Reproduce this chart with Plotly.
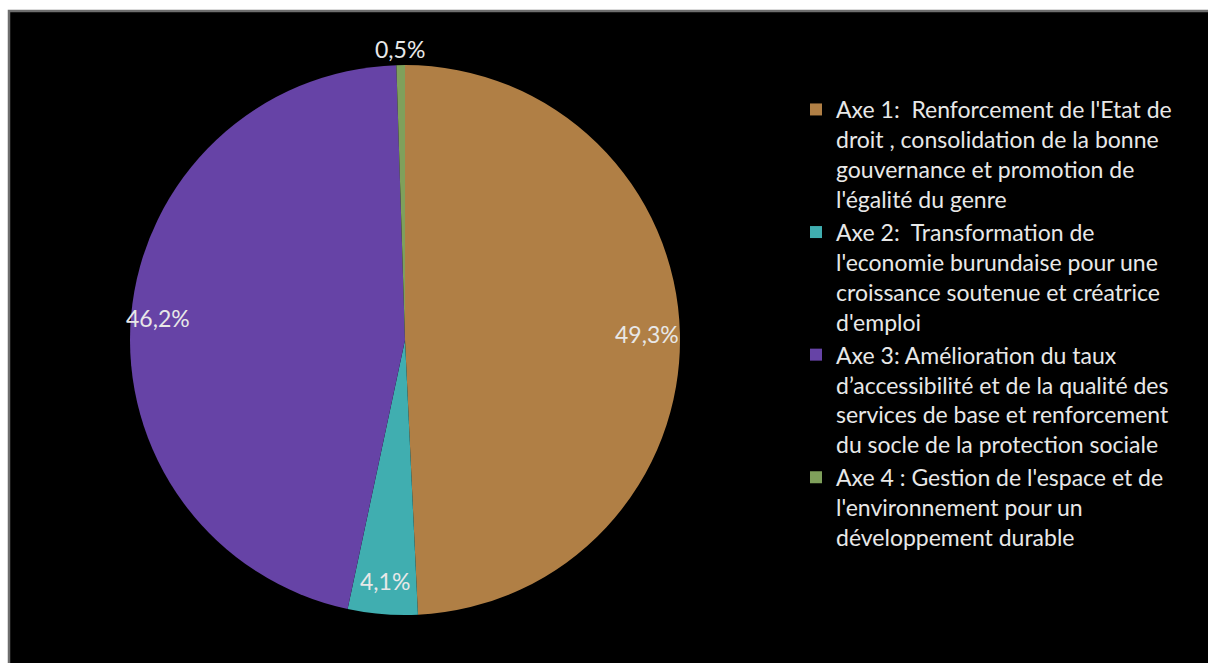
import math
import plotly.graph_objects as go

labels = [
    "Axe 1:  Renforcement de l'Etat de<br>droit , consolidation de la bonne<br>gouvernance et promotion de<br>l'égalité du genre",
    "Axe 2:  Transformation de<br>l'economie burundaise pour une<br>croissance soutenue et créatrice<br>d'emploi",
    "Axe 3: Amélioration du taux<br>d’accessibilité et de la qualité des<br>services de base et renforcement<br>du socle de la protection sociale",
    "Axe 4 : Gestion de l'espace et de<br>l'environnement pour un<br>développement durable",
]
values = [49.3, 4.1, 46.2, 0.5]
pct_text = ["49,3%", "4,1%", "46,2%", "0,5%"]
colors = ["#B07F45", "#40AEB0", "#6643A6", "#7FA05B"]

W, H = 1208, 663
# pie geometry (pixels)
CX, CY, R = 405, 340, 275
label_r = [0.88, 0.88, 0.90, 1.06]  # radial position of each label (fraction of radius)

fig = go.Figure()
fig.add_trace(go.Pie(
    labels=labels,
    values=values,
    textinfo="none",
    sort=False,
    direction="clockwise",
    rotation=0,
    marker=dict(colors=colors, line=dict(width=0)),
    domain=dict(x=[(CX - R) / W, (CX + R) / W], y=[1 - (CY + R) / H, 1 - (CY - R) / H]),
    showlegend=True,
    hoverinfo="label+text",
    hovertext=pct_text,
))

# percentage labels placed at each slice's mid-angle (derived from the values)
total = sum(values)
cum = 0.0
for v, t, rf in zip(values, pct_text, label_r):
    mid = (cum + v / 2) / total * 2 * math.pi
    cum += v
    px = CX + rf * R * math.sin(mid)
    py = CY - rf * R * math.cos(mid)
    fig.add_annotation(x=px / W, y=1 - py / H, xref="paper", yref="paper",
                       xanchor="center", yanchor="middle",
                       text=t, showarrow=False,
                       font=dict(family="Lato", size=23, color="#E8E8E8"))

fig.add_shape(type="rect", xref="paper", yref="paper",
              x0=9 / W, x1=1 + 4 / W, y0=-4 / H, y1=1 - 11 / H,
              fillcolor="black", line=dict(color="#6E6E6E", width=2.5), layer="below")

fig.update_layout(
    width=W, height=H,
    margin=dict(l=0, r=0, t=0, b=0),
    paper_bgcolor="white",
    plot_bgcolor="black",
    legend=dict(
        x=796 / W, y=1 - 88 / H, xanchor="left", yanchor="top",
        valign="top",
        font=dict(family="Lato", size=23, color="#E8E8E8"),
        bgcolor="rgba(0,0,0,0)",
        itemclick=False,
    ),
)

fig.write_html("out.html",
               config={"displayModeBar": False},
               post_script="document.body.style.margin='0';document.documentElement.style.overflow='hidden';document.body.style.overflow='hidden';")
